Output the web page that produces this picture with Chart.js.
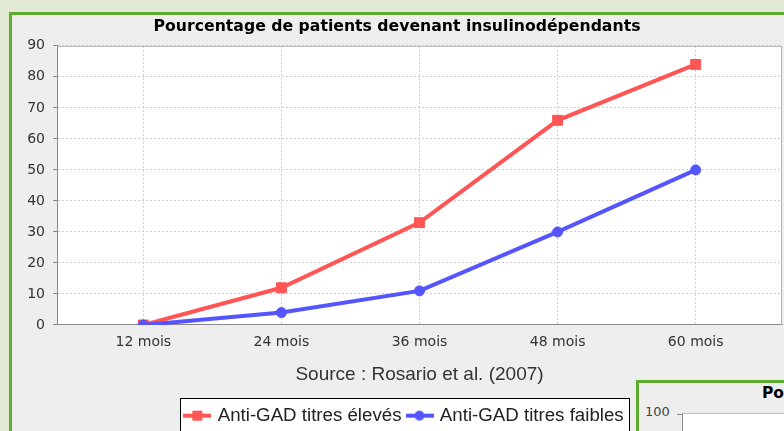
<!DOCTYPE html>
<html lang="fr">
<head>
<meta charset="utf-8">
<title>Pourcentage de patients devenant insulinodépendants</title>
<script src="https://cdn.jsdelivr.net/npm/chart.js@4.4.1/dist/chart.umd.min.js"></script>
<style>
  html, body { margin: 0; padding: 0; }
  body {
    width: 784px; height: 431px; overflow: hidden; position: relative;
    background: #e2ead6; font-family: "DejaVu Sans", sans-serif;
  }
  .panel { position: absolute; border: 3px solid #5dad2f; background: #eeeeee; }
  #main-panel { left: 9px; top: 12px; width: 800px; height: 500px; }
  #chart { position: absolute; left: 12px; top: 15px; }
  /* next chart, only its corner shows */
  #side-panel { left: 636px; top: 380px; width: 200px; height: 100px; z-index: 2; overflow: hidden; }
  #side-title { position: absolute; left: 123px; top: 1px; font-weight: bold; font-size: 15.5px; line-height: 18px; color: #000; white-space: nowrap; }
  #side-tick { position: absolute; left: 6px; top: 21px; font-size: 13px; line-height: 16px; color: #444; }
  #side-mark { position: absolute; left: 38px; top: 31px; width: 5px; height: 1px; background: #888; }
  #side-plot { position: absolute; left: 43px; top: 30px; width: 200px; height: 100px; background: #fff; border-left: 1px solid #888; border-top: 1px solid #bbb; }
</style>
</head>
<body>
<div id="main-panel" class="panel"></div>
<canvas id="chart" width="772" height="420"></canvas>
<div id="side-panel" class="panel">
  <div id="side-title">Po</div>
  <div id="side-tick">100</div>
  <div id="side-mark"></div>
  <div id="side-plot"></div>
</div>

<script>
/* ── Data ── */
const xLabels = ['12 mois', '24 mois', '36 mois', '48 mois', '60 mois'];
const months = [12, 24, 36, 48, 60];
const highTiter = [0, 12, 33, 66, 84];
const lowTiter = [0, 4, 11, 30, 50];
const seriesNames = ['Anti-GAD titres élevés', 'Anti-GAD titres faibles'];
const seriesColors = ['#ff5555', '#5555ff'];

Chart.defaults.font.family = '"DejaVu Sans", sans-serif';

/* ── Legend icons: line with marker ── */
function legendIcon(color, shape) {
  const c = document.createElement('canvas');
  c.width = 28; c.height = 12;
  const g = c.getContext('2d');
  g.fillStyle = color;
  g.fillRect(0, 4, 28, 4);
  if (shape === 'rect') {
    g.fillRect(9, 1, 10, 10);
  } else {
    g.beginPath(); g.arc(14, 6, 5, 0, Math.PI * 2); g.fill();
  }
  return c;
}
const icons = [legendIcon(seriesColors[0], 'rect'), legendIcon(seriesColors[1], 'circle')];

/* ── Plot background, frame and legend box ── */
const frames = {
  id: 'frames',
  afterLayout(chart) {
    // legend sits a little right of centre in the original
    chart.legend.left += 8;
    chart.legend.right += 8;
  },
  beforeDraw(chart) {
    const { ctx, chartArea: a } = chart;
    ctx.save();
    ctx.fillStyle = '#ffffff';
    ctx.fillRect(a.left, a.top, a.right - a.left, a.bottom - a.top);

    const hb = chart.legend.legendHitBoxes;
    if (hb && hb.length) {
      const last = hb[hb.length - 1];
      const x0 = Math.round(hb[0].left) - 5.5;
      const x1 = Math.round(last.left + last.width) + 5.5;
      const y0 = Math.round(hb[0].top) - 7.5;
      ctx.fillStyle = '#ffffff';
      ctx.fillRect(x0, y0, x1 - x0, chart.height - y0 + 5);
      ctx.strokeStyle = '#000000';
      ctx.lineWidth = 1;
      ctx.strokeRect(x0, y0, x1 - x0, chart.height - y0 + 5);
    }
    ctx.restore();
  },
  beforeDatasetsDraw(chart) {
    const { ctx, chartArea: a } = chart;
    ctx.save();
    ctx.strokeStyle = '#b4b4b4';
    ctx.lineWidth = 1;
    ctx.beginPath();
    ctx.moveTo(a.left, a.top + 0.5);
    ctx.lineTo(a.right - 0.5, a.top + 0.5);
    ctx.lineTo(a.right - 0.5, a.bottom);
    ctx.stroke();
    ctx.restore();
  }
};

new Chart(document.getElementById('chart'), {
  type: 'line',
  data: {
    datasets: [
      {
        label: seriesNames[0],
        data: months.map((m, i) => ({ x: m, y: highTiter[i] })),
        borderColor: seriesColors[0],
        backgroundColor: seriesColors[0],
        borderWidth: 4,
        pointStyle: 'rect',
        pointRadius: 7,
        pointHoverRadius: 7,
        pointBorderWidth: 1,
        clip: 0,
        order: 1,
      },
      {
        label: seriesNames[1],
        data: months.map((m, i) => ({ x: m, y: lowTiter[i] })),
        borderColor: seriesColors[1],
        backgroundColor: seriesColors[1],
        borderWidth: 4,
        pointStyle: 'circle',
        pointRadius: 5,
        pointHoverRadius: 5,
        pointBorderWidth: 1,
        clip: 0,
        order: 0,
      }
    ]
  },
  options: {
    responsive: false,
    animation: false,
    devicePixelRatio: 1,
    layout: { autoPadding: false, padding: { left: 0, right: 2, top: 0, bottom: 0 } },
    plugins: {
      title: {
        display: true,
        text: 'Pourcentage de patients devenant insulinodépendants',
        color: '#000000',
        font: { size: 15.7, weight: 'bold' },
        padding: { top: 3, bottom: 9 }
      },
      subtitle: {
        display: true,
        position: 'bottom',
        weight: 500,
        fullSize: false,
        text: 'Source : Rosario et al. (2007)',
        color: '#333333',
        font: { family: '"Liberation Sans", Arial, sans-serif', size: 19 },
        padding: { top: 3.3, bottom: 13.2 }
      },
      legend: {
        position: 'bottom',
        labels: {
          usePointStyle: true,
          pointStyleWidth: 22,
          padding: 7,
          color: '#222222',
          font: { family: '"Liberation Sans", Arial, sans-serif', size: 18.7 },
          generateLabels(chart) {
            const items = Chart.defaults.plugins.legend.labels.generateLabels(chart);
            items.sort((a, b) => a.datasetIndex - b.datasetIndex);
            items.forEach(it => { it.pointStyle = icons[it.datasetIndex]; });
            return items;
          }
        }
      },
      tooltip: { enabled: false }
    },
    scales: {
      x: {
        type: 'linear',
        min: 4.5,
        max: 67.5,
        afterBuildTicks(scale) { scale.ticks = months.map(v => ({ value: v })); },
        afterFit(scale) { scale.height = 35; scale.paddingLeft = 0; scale.paddingRight = 0; },
        ticks: {
          color: '#333333',
          font: { size: 14 },
          padding: 8.5,
          maxRotation: 0,
          callback: v => xLabels[months.indexOf(v)]
        },
        grid: { color: '#cfcfcf', drawTicks: false },
        border: { display: true, color: '#888888', width: 1, dash: [2, 2] }
      },
      y: {
        min: 0,
        max: 90,
        afterFit(scale) { scale.width = 45; scale.paddingTop = 0; scale.paddingBottom = 0; },
        ticks: { stepSize: 10, color: '#333333', font: { size: 14 }, padding: 8 },
        grid: { color: '#cfcfcf', tickLength: 4, tickColor: '#888888', tickBorderDash: [] },
        border: { display: true, color: '#888888', width: 1, dash: [2, 2] }
      }
    }
  },
  plugins: [frames]
});
</script>
</body>
</html>
